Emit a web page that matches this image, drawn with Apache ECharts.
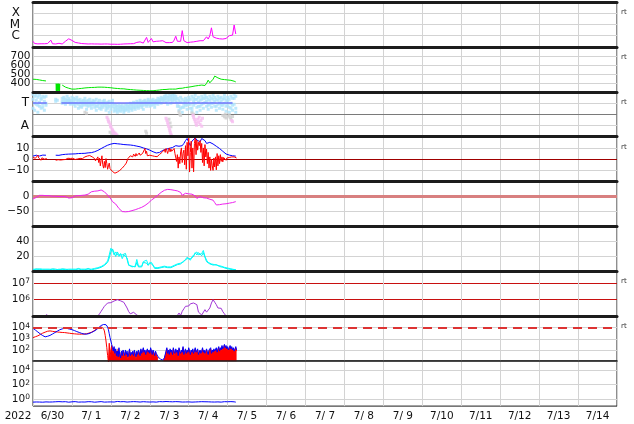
<!DOCTYPE html>
<html><head><meta charset="utf-8">
<script src="https://cdn.jsdelivr.net/npm/echarts@6/dist/echarts.min.js"></script>
<style>html,body{margin:0;padding:0;background:#fff}#c{width:634px;height:424px}</style>
</head><body><div id="c"></div>
<script>
// ---------- DATA (x = hours since 2022-06-30 00:00 UT) ----------
const yearLabel = '2022';
const dayLabels = ['6/30','7/ 1','7/ 2','7/ 3','7/ 4','7/ 5','7/ 6','7/ 7','7/ 8','7/ 9','7/10','7/11','7/12','7/13','7/14'];

// X-ray flux, log10 W/m2, hourly
const xrayLog = [-6.5,-6.7,-6.72,-6.73,-6.73,-6.72,-6.7,-6.72,-6.73,-6.7,-6.72,-6.4,
-6.72,-6.73,-6.74,-6.72,-6.68,-6.74,-6.74,-6.65,-6.5,-6.38,-6.28,-6.3,
-6.42,-6.52,-6.6,-6.55,-6.65,-6.68,-6.7,-6.6,-6.72,-6.7,-6.74,-6.72,
-6.73,-6.74,-6.74,-6.72,-6.74,-6.73,-6.75,-6.74,-6.74,-6.75,-6.74,-6.74,
-6.76,-6.75,-6.76,-6.76,-6.77,-6.76,-6.76,-6.75,-6.74,-6.76,-6.73,-6.74,
-6.72,-6.74,-6.71,-6.73,-6.6,-6.72,-6.55,-6.7,-6.66,-6.68,-6.15,-6.6,
-6.55,-6.25,-6.55,-6.6,-6.5,-6.52,-6.48,-6.5,-6.45,-6.52,-6.62,-6.65,
-6.62,-6.63,-6.6,-6.4,-6.05,-6.5,-6.4,-6.5,-5.55,-6.45,-6.55,-6.62,
-6.6,-6.58,-6.6,-6.55,-6.55,-6.5,-6.52,-6.45,-6.4,-6.45,-6.35,-6.1,
-6.3,-6.0,-5.3,-6.1,-6.2,-6.22,-6.2,-6.28,-6.32,-6.3,-6.32,-6.25,
-6.2,-6.0,-5.85,-5.95,-5.05,-5.85];

// Solar wind speed km/s, hourly
const speed = [440,441,438,436,432,428,425,423,421,null,null,null,null,null,null,null,null,null,
375,365,352,345,340,335,
330,328,330,333,335,336,338,340,343,345,346,347,
348,350,349,351,352,354,352,350,351,349,348,347,
345,343,340,338,337,336,334,332,333,330,328,326,
325,324,322,320,319,318,317,316,315,314,313,313,
312,313,312,314,316,318,320,322,325,323,326,328,
330,332,330,333,330,335,338,360,340,345,348,350,
352,355,358,362,365,368,370,373,375,380,370,395,
430,400,405,440,475,465,455,445,440,438,436,440,
432,430,428,420,418,410];
// short noisy burst, 10-min samples starting 14.2 h
const speedBurstStart = 14.2;
const speedBurst = [392,312,385,309,390,315,388,310,380,318,391,311,386,309,389];

// IMF phi angle (deg), three hourly readings
const phiUpper = [340,324,332,316,332,308,324,316,324,null,null,null,null,null,300,292,null,null,
308,316,300,324,308,292,
316,308,300,316,292,300,284,292,308,284,292,300,
276,292,284,300,276,292,268,284,292,260,276,284,
268,292,260,252,244,260,244,252,236,252,260,244,
268,252,276,260,284,268,292,276,284,292,276,300,
284,292,300,284,292,308,300,316,308,324,332,316,
340,324,332,348,324,308,292,316,300,284,308,292,
316,300,324,308,332,300,316,292,324,308,332,316,
300,324,308,332,316,300,324,308,316,300,332,292,
316,300,324,308,340,324];
const phiMid = [300,268,292,252,276,300,236,284,268,null,null,null,null,null,null,null,null,null,
284,300,276,292,292,276,
292,284,268,292,260,276,260,276,284,252,268,276,
252,276,260,244,260,268,244,260,276,236,252,244,
244,268,228,236,220,236,228,236,212,228,244,228,
252,228,260,236,268,244,276,252,252,276,260,284,
268,276,284,260,284,284,292,300,300,308,308,292,
316,300,308,324,300,268,244,276,236,260,284,252,
292,260,228,284,300,236,276,244,300,268,308,284,
252,292,268,300,284,244,292,268,284,252,308,244,
284,236,268,252,308,228];
const phiLower = [228,212,260,196,244,228,260,212,252,null,null,null,null,null,284,null,null,null,
268,276,260,284,276,260,
268,260,244,268,228,244,236,252,260,220,244,252,
228,260,236,212,244,228,220,236,252,212,228,196,
220,244,204,212,196,212,204,220,196,212,220,204,
228,212,236,220,244,228,252,236,220,260,244,260,
244,252,260,236,268,260,276,268,284,292,276,260,
292,268,284,300,276,244,212,228,196,236,252,220,
260,228,204,252,268,196,244,212,260,228,276,244,
220,260,236,268,244,212,260,228,252,220,268,204,
252,196,228,212,260,196];
const phiAway = [[45.6,156],[46.2,140],[46.5,124],[46.9,116],[47.5,100],[47.8,84],[48.1,76],[48.7,60],[49.0,52],[49.3,44],[49.9,36],[50.6,28],[51.2,20],[51.8,12],[49.3,28],[50.6,12],
[82,148],[82.5,132],[83,116],[83.2,100],[83.5,84],[84,68],[84.3,52],[84.6,36],[85,20],[85.3,8],
[98.6,172],[99,156],[99.5,140],[100,124],[100.4,108],[100.8,92],[101.5,140],[102,116],[102.5,156],[103,100],[103.5,130],[104,84],[104.5,148],
[122.5,130],[123,120]];
const phiOther = [[32,196],[33,188],[47.5,36],[48.5,20],[49.5,12],[69.5,44],[70,28],[83.8,140],[84.5,110],[85,80],[90,200],[90.5,180],[91,170],[98,190],[99,180],
[117,170],[118,160],[118.5,180],[119,150],[120,165],[121,175],[121.5,155],[122,140],[123,162]];
const towardLevel = 270;
const towardSpans = [[0,8.5],[17.5,123]];

// IMF Bt (nT), hourly
const bt = [2.7,3.0,3.5,3.2,2.8,3.4,3.6,3.3,3.5,null,null,null,null,null,3.5,3.6,3.4,3.8,
4.0,4.2,4.3,4.4,4.5,4.4,
4.6,4.8,4.7,4.9,5.0,5.0,5.1,5.3,5.2,5.4,5.6,5.5,
5.8,6.2,6.6,7.0,7.8,8.5,9.4,10.2,11.0,11.8,12.4,13.0,
13.4,13.8,14.0,13.8,13.7,13.5,13.4,13.2,13.0,13.1,12.8,12.6,
12.6,12.4,12.2,12.0,11.6,11.2,11.0,10.5,10.0,9.6,9.2,8.5,
8.0,7.2,6.6,6.0,5.5,5.2,6.0,7.0,7.8,8.4,8.8,9.2,
9.6,10.0,10.4,11.0,12.0,12.5,11.5,12.8,12.0,14.0,16.5,18.4,
15.0,12.0,16.0,17.5,19.0,17.0,18.0,15.5,18.4,17.0,16.5,14.0,
15.5,15.0,14.5,13.5,12.4,11.5,10.5,9.5,8.5,7.0,5.5,4.6,
4.0,3.6,3.2,3.0,2.8,2.7];
// IMF Bz (nT), 30-min
const bz = [1.5,0.5,2.5,0.8,1.8,-0.5,3.5,1.0,0.2,2.0,-1.0,1.2,0.5,2.8,0.0,1.5,-0.8,0.5,
null,null,null,null,null,null,null,null,null,null,
-1.0,0.5,-1.5,-0.5,-1.2,0.2,-0.8,-1.0,
0.5,-0.5,0.2,1.0,-0.3,0.4,0.0,0.8,-0.5,0.3,0.6,-0.2,
0.2,0.8,0.0,0.5,-0.3,0.6,1.0,0.2,0.4,-0.2,0.7,0.9,1.2,0.5,1.5,1.0,2.0,1.4,2.5,2.8,3.0,2.2,3.2,2.6,
3.0,2.0,3.5,1.5,0.5,-1.5,-2.4,-0.5,
2.0,-3.0,1.0,-6.0,-1.0,3.0,-5.0,-8.0,-2.0,-7.5,0.5,-4.0,-9.0,-6.0,-3.5,-8.5,
-10,-7,-11,-9.5,-12,-12.5,-12.7,-12,-11.5,-11,-10.5,-10,-9.5,-9,-8,-7.5,
-6.5,-5.5,-4.5,-3.5,-2.5,0.5,1.5,2.0,
3.0,1.5,4.0,2.0,4.5,3.5,2.5,5.0,3.0,4.0,2.0,5.5,3.5,4.5,3.0,5.0,4.0,6.5,9.5,5.0,7.0,3.0,4.5,3.0,
3.5,2.5,4.0,3.0,2.0,3.5,2.5,4.0,3.0,2.2,3.6,2.8,4.2,3.4,5.0,6.0,
7.0,5.5,8.5,6.0,9.5,7.5,5.0,8.0,10.0,6.5,9.0,7.0,8.5,6.0,9.5,5.0,
6.0,-2.0,4.0,-8.0,2.0,-4.0,6.5,10.0,-3.0,5.0,
8.0,-5.0,12.0,-9.0,15.0,3.0,18.7,-11.5,6.0,16.0,-8.0,10.0,-11.3,14.0,
18.7,4.0,17.0,8.0,15.0,12.0,16.5,6.0,14.0,-3.0,10.0,-6.0,13.0,2.0,9.0,-4.0,
6.0,-8.0,2.0,-10.0,0.0,-6.0,-10.0,1.0,-7.0,2.0,-9.5,5.0,-6.0,3.0,-4.0,4.0,
-2.0,2.0,-2.4,1.5,0.0,2.0,-1.0,1.0,2.0,0.5,1.5,2.0,
1.0,2.0,1.5,0.5,2.0,1.2,1.8,1.0];

// Dst (nT), hourly
const dst = [-8,-6,-3,0,4,5,4,3,3,2,3,2,
1,0,1,0,0,-1,0,1,0,-2,-5,-6,
-4,-1,2,3,3,3,4,5,5,4,8,14,
16,17,18,17,19,20,22,20,16,12,5,0,
-8,-17,-22,-25,-30,-40,-45,-50,-52,-51,-50,-50,
-49,-47,-45,-44,-42,-40,-38,-36,-33,-30,-26,-22,
-17,-12,-8,-4,0,5,10,14,18,21,23,24,
24,23,22,21,20,19,17,14,4,6,11,10,
9,8,8,5,2,-6,-2,0,-2,-4,-6,-5,
-7,-9,-8,-12,-20,-28,-28,-27,-26,-25,-26,-24,
-23,-22,-21,-20,-18,-17];

// Solar wind density (/cc), two sources, hourly
const densA = [3,4,2.5,3,3.5,2.5,3,2,3,2.5,3,2,
2.5,3,2,2.5,3,2,2.5,3,2.5,2,3,3.5,
3,2.5,3,3.5,3,2.5,3,2.5,3,3.5,3,2.5,
3,3.5,4,4.5,5,5.5,6.5,7.5,9,11,14,22,
31,28,22,26,24,20,24,17,22,22,18,9,
7,6,6.5,7,16,7,6,7,13,13,15,9,
9,12,13,5,4,5,4.5,6,8,7,5,6,
5,6,7,8,9,10,9,11,12,13,16,19,
17,15,19,22,23,26,22,20,24,28,20,15,
12,11,10,9.5,9,8.5,8,7.5,7,6,5.5,5,
4.5,4,3.5,3,2.5,2];
const densB = [2,3,3.5,2,2.5,3.5,2,3,2,3.5,2,3,
3.5,2,3,3.5,2,3,3.5,2,3,3,2,2.5,
2,3.5,2,2.5,4,3.5,2,3.5,2,2.5,4,3.5,
2,2.5,3,3.5,4,4.5,5.5,6.5,8,10,12,18,
26,30,25,20,26,22,21,22,20,24,16,8,
6,7,5.5,6,12,6,7,6,12,14,11,8,
12,10,8,4,5,4,5.5,5,7,6,6,5,
6,5,6,7,8,9,10,10,11,14,15,17,
19,17,16,20,25,22,25,24,21,25,24,13,
11,10,9,8.5,8,9,7,6.5,6,5.5,4.5,4,
3.5,3,3,2.5,2,2.5];

// Electron fluence, log10, hourly
const fluenceLog = [null,null,null,null,null,null,null,null,5.1,5.06,
null,null,null,null,null,null,null,null,null,null,null,null,null,null,null,null,null,null,null,null,
null,null,null,null,null,null,null,null,null,null,
5.02,5.15,5.3,5.45,5.6,5.7,5.8,5.75,5.82,5.9,5.92,5.97,6.0,5.97,5.93,5.88,5.84,5.78,5.5,5.28,5.15,5.2,5.24,5.12,5.08,5.02,
null,null,null,null,null,null,null,null,null,null,null,null,null,null,null,null,null,null,null,null,null,null,null,
5.05,5.2,5.05,5.3,5.45,5.6,5.72,5.62,5.75,5.85,5.8,5.83,5.7,5.25,5.15,5.08,5.2,5.4,5.25,5.3,5.5,5.8,6.0,5.85,5.7,5.5,5.4,5.48,5.28,5.15,5.02,
null,null,null,null,null,null];

// Particle flux, log10, 30-min: blue and red channels
const fluxBlueLog = [3.93,3.88,3.82,3.77,3.72,3.66,3.6,3.54,3.48,3.43,3.38,3.33,3.28,3.24,3.2,3.17,
3.16,3.18,3.22,3.25,3.27,3.3,3.34,3.38,3.42,3.46,3.5,3.55,3.6,3.64,3.68,3.72,
3.76,3.8,3.83,3.86,3.88,3.9,3.92,3.93,3.94,3.93,3.92,3.9,3.88,3.86,3.85,3.83,
3.81,3.79,3.76,3.73,3.7,3.67,3.64,3.61,3.58,3.56,3.53,3.5,3.48,3.46,3.44,3.42,
3.41,3.4,3.41,3.42,3.44,3.46,3.49,3.52,3.55,3.58,3.62,3.66,3.7,3.75,3.8,3.86,
3.92,3.98,4.05,4.12,4.18,4.22,4.25,4.27,4.28,4.27,4.25,4.2,4.05,3.8,3.45,3.1,
2.8,2.5,2.2,1.9,2.3,1.7,2.1,1.5,1.9,1.4,2.2,1.6,1.3,1.9,1.5,2.0,
1.8,1.5,2.0,1.6,1.9,1.4,1.7,2.1,1.5,1.8,
1.6,1.9,1.5,2.0,1.7,1.4,1.9,1.6,2.0,1.8,
1.5,2.1,1.7,1.9,2.2,1.8,2.0,1.6,1.9,2.1,
1.8,2.0,1.7,2.2,1.9,1.6,2.0,1.8,1.5,1.9,
1.7,1.6,1.4,1.5,1.3,1.2,1.15,1.1,1.1,1.15,
1.3,1.6,1.9,2.2,1.7,2.0,1.6,2.1,1.8,2.0,
1.6,2.2,1.9,1.7,2.1,1.8,2.0,1.5,2.2,1.9,
1.7,2.0,1.8,2.3,1.6,1.9,2.1,1.7,2.0,1.8,
2.2,1.9,1.6,2.0,1.8,2.1,1.7,1.9,2.2,1.8,
1.9,2.1,1.6,1.8,2.0,1.7,1.9,2.2,1.8,2.0,
1.7,1.9,2.1,1.8,1.6,2.0,1.9,2.2,1.7,2.0,
1.8,2.1,1.9,2.0,2.2,1.8,2.1,2.3,1.9,2.2,
2.0,2.4,2.1,2.3,2.5,2.2,2.4,2.1,2.3,2.0,
2.2,2.4,2.1,2.3,2.0,2.2,1.9,2.1,2.3,2.0];
const fluxRedLog = [3.1,3.12,3.15,3.18,3.2,3.23,3.26,3.3,3.34,3.38,3.42,3.46,3.5,3.53,3.56,3.59,
3.62,3.65,3.67,3.69,3.7,3.7,3.69,3.68,3.66,3.65,3.64,3.63,3.62,3.61,3.6,3.59,
3.58,3.58,3.57,3.57,3.56,3.56,3.55,3.55,3.54,3.53,3.52,3.51,3.5,3.49,3.48,3.47,
3.46,3.45,3.44,3.44,3.43,3.43,3.42,3.42,3.42,3.41,3.41,3.41,3.41,3.41,3.42,3.42,
3.43,3.44,3.45,3.46,3.48,3.5,3.52,3.55,3.58,3.62,3.66,3.7,3.75,3.8,3.85,3.9,
3.95,3.99,4.02,4.04,4.05,4.04,4.0,3.9,3.7,3.3,2.8,2.2,1.5,0.9,
2.6,1.3,2.0,2.4,1.6,2.2,1.5,2.0,
1.4,1.9,1.3,2.1,1.5,1.8,1.2,1.7,1.4,1.9,
1.6,1.3,1.9,1.5,1.7,1.2,1.6,2.0,1.4,1.7,
1.5,1.8,1.3,1.9,1.6,1.2,1.8,1.5,1.9,1.7,
1.4,2.0,1.6,1.8,2.1,1.7,1.9,1.5,1.8,2.0,
1.7,1.9,1.6,2.1,1.8,1.5,1.9,1.7,1.4,1.8,
1.6,1.4,1.2,null,null,null,null,null,null,1.05,
1.2,1.5,1.8,2.1,1.6,1.9,1.5,2.0,1.7,1.9,
1.5,2.1,1.8,1.6,2.0,1.7,1.9,1.4,2.1,1.8,
1.6,1.9,1.7,2.2,1.5,1.8,2.0,1.6,1.9,1.7,
2.1,1.8,1.5,1.9,1.7,2.0,1.6,1.8,2.1,1.7,
1.8,2.0,1.5,1.7,1.9,1.6,1.8,2.1,1.7,1.9,
1.6,1.8,2.0,1.7,1.5,1.9,1.8,2.1,1.6,1.9,
1.7,2.0,1.8,1.9,2.1,1.7,2.0,2.2,1.8,2.1,
1.9,2.3,2.0,2.2,2.4,2.1,2.3,2.0,2.2,1.9,
2.1,2.3,2.0,2.2,1.9,2.1,1.8,2.0,2.2,1.9];
const redFillFrom = 93; // index where red channel switches to filled spikes

// Bottom panel flux, log10, hourly
const lowLog = [-0.45,-0.40,-0.43,-0.38,-0.44,-0.41,-0.46,-0.40,-0.42,-0.39,-0.44,-0.41,
-0.43,-0.47,-0.40,-0.42,-0.38,-0.45,-0.41,-0.44,-0.39,-0.43,-0.46,-0.40,
-0.41,-0.44,-0.38,-0.42,-0.45,-0.40,-0.43,-0.37,-0.44,-0.41,-0.39,-0.45,
-0.40,-0.43,-0.46,-0.39,-0.42,-0.44,-0.38,-0.41,-0.45,-0.40,-0.43,-0.37,
-0.42,-0.39,-0.44,-0.41,-0.36,-0.43,-0.40,-0.45,-0.38,-0.42,-0.44,-0.39,
-0.41,-0.45,-0.38,-0.43,-0.40,-0.37,-0.44,-0.41,-0.39,-0.46,-0.42,-0.38,
-0.44,-0.40,-0.42,-0.36,-0.45,-0.41,-0.38,-0.43,-0.40,-0.44,-0.37,-0.42,
-0.39,-0.43,-0.41,-0.45,-0.38,-0.42,-0.40,-0.36,-0.44,-0.41,-0.43,-0.39,
-0.42,-0.38,-0.45,-0.40,-0.43,-0.37,-0.41,-0.44,-0.39,-0.42,-0.40,-0.46,
-0.41,-0.39,-0.43,-0.38,-0.44,-0.40,-0.42,-0.37,-0.45,-0.41,-0.39,-0.43,
-0.40,-0.44,-0.38,-0.42,-0.41,-0.45];

// ---------- CHART ----------
const FONT = 'DejaVu Sans';
const GRIDC = '#d3d3d3';
const PT = 2, PH = 44.9;
const tops = Array.from({length: 9}, (_, k) => PT + k * PH);

function ts(arr, step, start) {
  return arr.map((v, i) => [(start || 0) + i * step, v == null ? '-' : v]);
}
function pick(map) {
  return function (v) {
    const r = Math.round(v);
    if (Math.abs(v - r) > 1e-6) return '';
    return map[r] !== undefined ? map[r] : '';
  };
}
const pw = n => '{b|10}{s|' + n + '}';
const RICH = {
  b: {fontSize: 10.5, fontFamily: FONT, color: '#111'},
  s: {fontSize: 7.5, fontFamily: FONT, color: '#111', verticalAlign: 'top'}
};
function Y(k, min, max, interval, labels, margin, fontSize, split) {
  return {
    gridIndex: k, type: 'value', min: min, max: max, interval: interval,
    axisLine: {show: false}, axisTick: {show: false},
    splitLine: split === false ? {show: false} : {show: true, lineStyle: {color: split || GRIDC, width: 1}},
    axisLabel: {margin: margin, fontSize: fontSize || 10.5, fontFamily: FONT, color: '#111',
      formatter: pick(labels), rich: RICH}
  };
}
const yAxis = [
  Y(0, -7, -3, 1, {'-4': 'X', '-5': 'M', '-6': 'C'}, 13, 12),
  Y(1, 300, 800, 100, {400: '400', 500: '500', 600: '600', 700: '700'}, 2.5),
  Y(2, 0, 360, 90, {270: 'T', 90: 'A'}, 4, 12),
  Y(3, -20, 20, 10, {10: '10', 0: '0', '-10': '\u221210'}, 3.5),
  Y(4, -100, 50, 50, {0: '0', '-50': '\u221250'}, 3.5),
  Y(5, 0, 60, 20, {20: '20', 40: '40'}, 3.5),
  Y(6, 5, 7.7, 1, {6: pw(6), 7: pw(7)}, 3, 10.5, '#c81010'),
  Y(7, 1, 5, 1, {2: pw(2), 3: pw(3), 4: pw(4)}, 3),
  Y(8, -1, 5.2, 1, {0: pw(0), 2: pw(2), 4: pw(4)}, 3, 10.5, false)
];
const xAxis = [];
for (let k = 0; k < 9; k++) {
  xAxis.push({gridIndex: k, type: 'value', min: 0, max: 360, interval: 24,
    axisLabel: {show: false}, axisTick: {show: false},
    axisLine: {show: false, onZero: false},
    splitLine: {show: true, lineStyle: {color: GRIDC, width: 1}}});
}
for (let k = 0; k < 9; k++) {
  xAxis.push({gridIndex: k, type: 'value', min: 0, max: 360, z: 5,
    axisLabel: {show: false}, axisTick: {show: false}, splitLine: {show: false},
    axisLine: {show: true, onZero: false, lineStyle: {color: '#1c1c1c', width: k < 8 ? 3 : 1.5}}});
}
xAxis.push({gridIndex: 8, type: 'category', data: dayLabels, boundaryGap: true, position: 'bottom',
  axisLine: {show: false}, axisTick: {show: false}, splitLine: {show: false},
  axisLabel: {interval: 0, margin: 5, fontSize: 10.5, fontFamily: FONT, color: '#111'}});

const grid = tops.map(t => ({left: 33, right: 17, top: t, height: PH, show: true,
  borderColor: '#1c1c1c', borderWidth: 1, backgroundColor: 'transparent'}));

function L(k, data, color, extra) {
  return Object.assign({type: 'line', xAxisIndex: k, yAxisIndex: k, data: data, showSymbol: false,
    symbol: 'none', animation: false, silent: true, connectNulls: false,
    lineStyle: {color: color, width: 1}, itemStyle: {color: color}}, extra || {});
}
function S(k, data, color) {
  return {type: 'scatter', xAxisIndex: k, yAxisIndex: k, data: data, symbol: 'rect', symbolSize: 3,
    animation: false, silent: true, itemStyle: {color: color}};
}
function ML(levels, style, z) {
  return {silent: true, symbol: 'none', label: {show: false}, animation: false, z: z == null ? 1 : z,
    data: levels.map(v => ({yAxis: v, lineStyle: style}))};
}
const towardData = [];
towardSpans.forEach(([a, b]) => { towardData.push([a, towardLevel], [b, towardLevel], [b, '-']); });

const series = [
  L(0, ts(xrayLog, 1), '#ff00ff'),
  L(1, ts(speed, 1), '#00e600'),
  L(1, ts(speedBurst, 1 / 6, speedBurstStart), '#00e600'),
  Object.assign(S(2, ts(phiUpper, 1), '#aee4fb'), {markLine: ML([180], {color: '#7a7a7a', width: 1, type: 'solid'})}),
  S(2, ts(phiMid, 1), '#aee4fb'),
  S(2, ts(phiLower, 1), '#aee4fb'),
  S(2, phiOther, '#cfcfcf'),
  S(2, phiAway, '#f6bdf0'),
  L(2, towardData, 'rgba(90,90,255,0.8)', {lineStyle: {color: 'rgba(90,90,255,0.8)', width: 1.5}}),
  L(3, ts(bt, 1), '#0000ff', {markLine: ML([0], {color: '#a00000', width: 1, type: 'solid'})}),
  L(3, ts(bz, 0.5), '#ff0000'),
  L(4, ts(dst, 1), '#ee22ee', {markLine: ML([0], {color: '#d88080', width: 3, type: 'solid'})}),
  L(5, ts(densB, 1), '#00f0f0'),
  L(5, ts(densA, 1), '#00ffff'),
  L(6, ts(fluenceLog, 1), '#a035d5'),
  L(7, ts(fluxRedLog.slice(0, redFillFrom + 1), 0.5), '#ff0000',
    {markLine: ML([4], {color: '#dd3333', width: 2, type: [9, 6]}, 6)}),
  L(7, ts(fluxRedLog.slice(redFillFrom), 0.5, redFillFrom * 0.5), '#ff0000',
    {areaStyle: {color: '#ff0000', opacity: 1, origin: 'start'}}),
  L(7, ts(fluxBlueLog, 0.5), '#0000ff'),
  L(8, ts(lowLog, 1), '#0000ff', {markLine: ML([0, 2, 4], {color: GRIDC, width: 1, type: 'solid'}, 0)})
];

const rtPanels = [0, 1, 2, 3, 6, 7];
const graphic = rtPanels.map(k => ({type: 'text', x: 621, y: tops[k] + 10, silent: true,
  style: {text: 'rt', fontSize: 7, fontFamily: FONT, fill: '#333', align: 'left', verticalAlign: 'middle',
    textAlign: 'left', textVerticalAlign: 'middle'}}));
graphic.push({type: 'text', x: 18, y: 416.5, silent: true,
  style: {text: yearLabel, fontSize: 10.5, fontFamily: FONT, fill: '#111', align: 'center', verticalAlign: 'middle',
    textAlign: 'center', textVerticalAlign: 'middle'}});

const chart = echarts.init(document.getElementById('c'), null, {renderer: 'canvas'});
chart.setOption({animation: false, backgroundColor: '#fff', grid, xAxis, yAxis, series, graphic});
</script></body></html>
